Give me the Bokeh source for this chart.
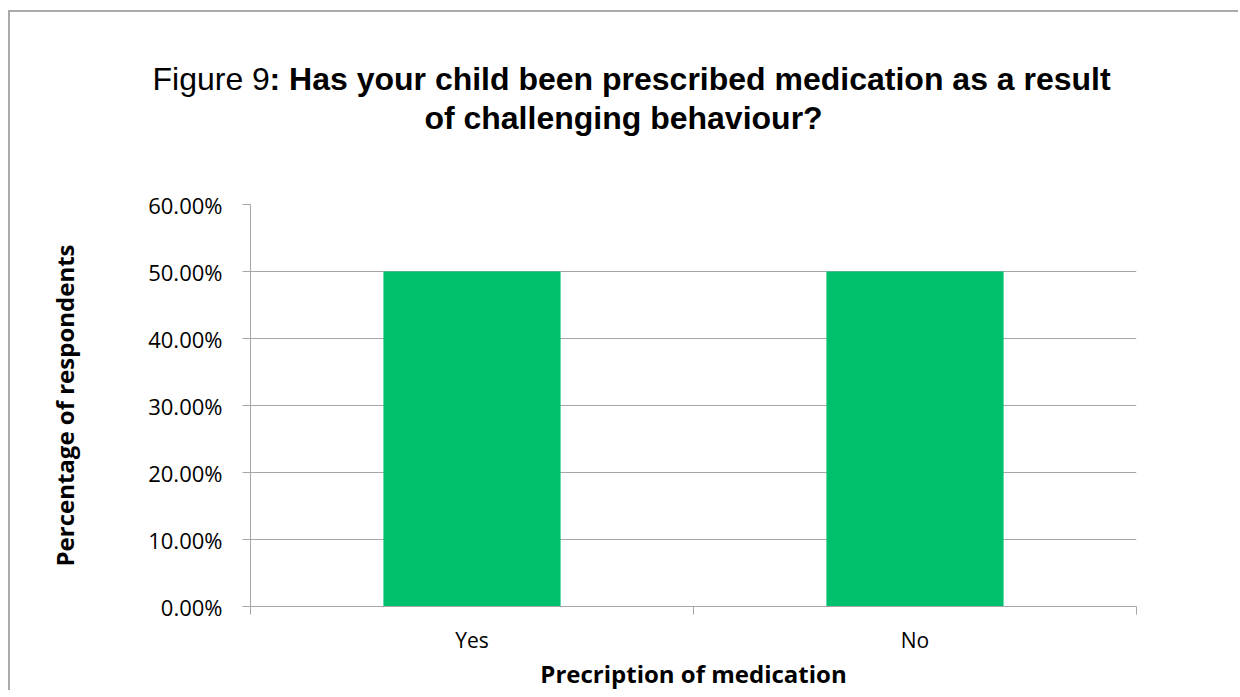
from bokeh.plotting import figure
from bokeh.models import (Range1d, FixedTicker, NumeralTickFormatter,
                          LinearAxis, Label)
from bokeh.embed import file_html
from bokeh.resources import INLINE

categories = ["Yes", "No"]
percent = [0.50, 0.50]
y_ticks = [0.0, 0.1, 0.2, 0.3, 0.4, 0.5, 0.6]
title_prefix = "Figure 9"
title_line1 = ": Has your child been prescribed medication as a result"
title_line2 = "of challenging behaviour?"
y_title = "Percentage of respondents"
x_title = "Precription of medication"

GRAY = "#a6a6a6"
BORDER = "#aaaaaa"
LABEL_FONT = "Open Sans"

n = len(categories)
centers = [i + 0.5 for i in range(n)]
bounds = list(range(n + 1))

p = figure(width=1230, height=680, output_backend="svg", toolbar_location=None,
           x_range=Range1d(0, n), y_range=Range1d(0, 0.6),
           x_axis_location=None, y_axis_location=None,
           min_border_left=240, min_border_right=104, min_border_top=192,
           min_border_bottom=85)
p.styles = {"margin-left": "8px", "margin-top": "10px",
            "border-left": f"2px solid {BORDER}", "border-top": f"2px solid {BORDER}"}
p.outline_line_color = None
p.xgrid.grid_line_color = None
p.ygrid.grid_line_color = GRAY
p.ygrid.ticker = FixedTicker(ticks=y_ticks)
p.background_fill_color = "white"
p.border_fill_color = "white"

p.vbar(x=centers, top=percent, width=0.4, color="#00C06E", line_color=None)

# y axis
yax = LinearAxis(ticker=FixedTicker(ticks=y_ticks),
                 formatter=NumeralTickFormatter(format="0.00%"))
yax.axis_line_color = GRAY
yax.major_tick_line_color = GRAY
yax.major_tick_out = 8
yax.major_tick_in = 0
yax.minor_tick_line_color = None
yax.major_label_text_font = LABEL_FONT
yax.major_label_text_font_size = "22px"
yax.major_label_text_color = "black"
yax.major_label_standoff = 20
yax.axis_label = y_title
yax.axis_label_text_font = LABEL_FONT
yax.axis_label_text_font_style = "bold"
yax.axis_label_text_font_size = "24px"
yax.axis_label_text_color = "black"
yax.axis_label_standoff = 64
p.add_layout(yax, "left")

# x axis: category labels at centres, tick marks at category boundaries
xax = LinearAxis(ticker=FixedTicker(ticks=centers, minor_ticks=bounds))
xax.major_label_overrides = {c: lab for c, lab in zip(centers, categories)}
xax.axis_line_color = GRAY
xax.major_tick_line_color = None
xax.major_tick_out = 8
xax.major_tick_in = 0
xax.minor_tick_line_color = GRAY
xax.minor_tick_out = 8
xax.minor_tick_in = 0
xax.major_label_text_font = LABEL_FONT
xax.major_label_text_font_size = "21px"
xax.major_label_text_color = "black"
xax.major_label_standoff = 11
xax.axis_label = x_title
xax.axis_label_text_font = LABEL_FONT
xax.axis_label_text_font_style = "bold"
xax.axis_label_text_font_size = "24px"
xax.axis_label_text_color = "black"
xax.axis_label_standoff = 0
p.add_layout(xax, "below")

# title (normal prefix + bold rest)
p.add_layout(Label(x=140, y=64, x_units="canvas", y_units="canvas",
                   text=title_prefix, text_font="Liberation Sans",
                   text_font_size="32px", text_color="black",
                   text_baseline="alphabetic", text_align="left"), "above")
p.add_layout(Label(x=257, y=64, x_units="canvas", y_units="canvas",
                   text=title_line1, text_font="Liberation Sans",
                   text_font_size="32px", text_font_style="bold",
                   text_color="black", text_baseline="alphabetic",
                   text_align="left"), "above")
p.add_layout(Label(x=611, y=103, x_units="canvas", y_units="canvas",
                   text=title_line2, text_font="Liberation Sans",
                   text_font_size="32px", text_font_style="bold",
                   text_color="black", text_baseline="alphabetic",
                   text_align="center"), "above")

open("out.html", "w").write(file_html(p, INLINE))
